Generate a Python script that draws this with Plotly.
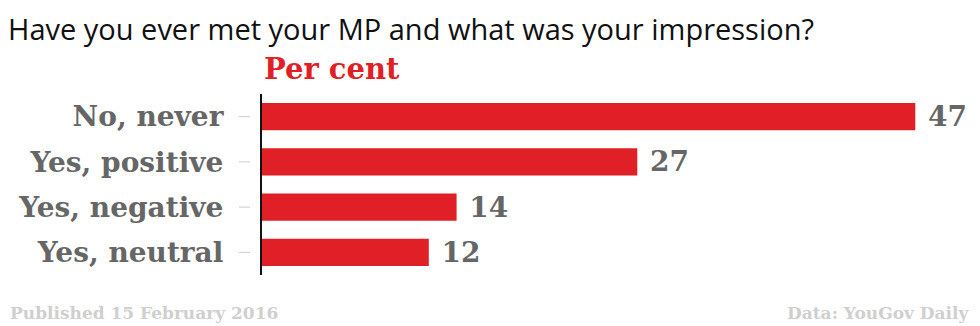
import plotly.graph_objects as go

categories = ["No, never", "Yes, positive", "Yes, negative", "Yes, neutral"]
values = [47, 27, 14, 12]
title_text = "Have you ever met your MP and what was your impression?"
unit_label = "Per cent"
footer_left = "Published 15 February 2016"
footer_right = "Data: YouGov Daily"

RED = "#e01f27"
GREY = "#666666"
SLAB = "DejaVu Serif"

W, H = 980, 326
L, R, T, B = 262, 30, 94, 51
pw = W - L - R
ph = H - T - B
px_per_unit = 13.9

fig = go.Figure(go.Bar(
    x=values, y=categories, orientation="h",
    marker=dict(color=RED, line=dict(width=0)),
    text=[str(v) for v in values], texttemplate=" %{text}", textposition="outside",
    textfont=dict(family=SLAB, size=28, color=GREY, weight="bold"),
    constraintext="none",
    cliponaxis=False, width=0.6,
))

fig.update_layout(
    width=W, height=H,
    margin=dict(l=L, r=R, t=T, b=B, pad=0),
    paper_bgcolor="white", plot_bgcolor="white",
    showlegend=False,
    xaxis=dict(range=[0, pw / px_per_unit], visible=False, fixedrange=True),
    yaxis=dict(
        autorange=False, range=[3.5, -0.5], type="category",
        showline=True, linecolor="#111111", linewidth=2,
        ticks="", showgrid=False, zeroline=False,
        tickfont=dict(family=SLAB, size=28, color=GREY, weight="bold"),
        ticklabelstandoff=31,
    ),
)

# small separate tick marks
for c in categories:
    fig.add_shape(type="line", xref="paper", yref="y",
                  x0=(239 - L) / pw, x1=(250 - L) / pw, y0=c, y1=c,
                  line=dict(color="#cccccc", width=1))

fig.add_annotation(text=title_text, xref="paper", yref="paper",
                   x=(6 - L) / pw, xanchor="left", y=1 + (T - 7) / ph, yanchor="top",
                   showarrow=False, font=dict(family="Open Sans", size=29, color="#111111"))
fig.add_annotation(text=unit_label, xref="paper", yref="paper",
                   x=0, xanchor="left", y=1 + (T - 50) / ph, yanchor="top",
                   showarrow=False, font=dict(family=SLAB, size=29, color=RED, weight="bold"))
fig.add_annotation(text=footer_left, xref="paper", yref="paper",
                   x=(8 - L) / pw, xanchor="left", y=-(301 - T - ph) / ph, yanchor="top",
                   showarrow=False, font=dict(family=SLAB, size=17, color="#cfcfcf", weight="bold"))
fig.add_annotation(text=footer_right, xref="paper", yref="paper",
                   x=(972 - L) / pw, xanchor="right", y=-(301 - T - ph) / ph, yanchor="top",
                   showarrow=False, font=dict(family=SLAB, size=17, color="#cfcfcf", weight="bold"))

fig.write_html("out.html")
